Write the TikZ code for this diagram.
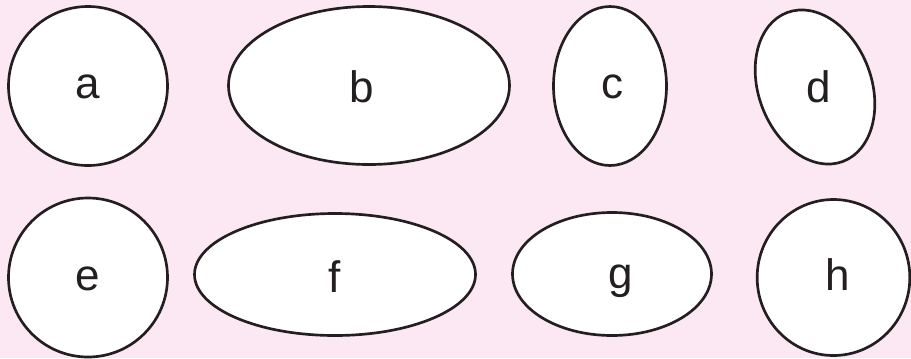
\documentclass[tikz,border=0pt]{standalone}
\usepackage{fontspec}
\setmainfont{Liberation Sans}
\usetikzlibrary{shapes.geometric}
\definecolor{bgpink}{RGB}{252,232,242}
\definecolor{inkdark}{RGB}{35,31,32}

\begin{document}
\begin{tikzpicture}[
    x=0.75pt, y=-0.75pt,
    blob/.style={ellipse, draw=inkdark, line width=2pt, fill=white, inner sep=0pt},
    letter/.style={anchor=base, text=inkdark, inner sep=0pt, font=\fontsize{33}{33}\selectfont}
]
    % Frame
    \useasboundingbox (0,0) rectangle (911,358);
    \clip (0,0) rectangle (911,358);
    \fill[bgpink] (0,0) rectangle (911,358);

    % Upper row
    \node[blob, minimum width=119.25pt, minimum height=119.25pt] (a) at (88,86) {};
    \node[blob, minimum width=210.75pt, minimum height=118.5pt] (b) at (369,85.5) {};
    \node[blob, minimum width=84.75pt, minimum height=119.25pt] (c) at (610,86) {};
    \node[blob, minimum width=84.75pt, minimum height=119.25pt, rotate=20.5] (d) at (815,87) {};

    % Lower row
    \node[blob, minimum width=119.25pt, minimum height=119.25pt] (e) at (88,277.5) {};
    \node[blob, minimum width=210.75pt, minimum height=91.5pt] (f) at (335,274.5) {};
    \node[blob, minimum width=149.25pt, minimum height=92.25pt] (g) at (612,274) {};
    \node[blob, minimum width=114.5pt, minimum height=117pt] (h) at (833.5,277.5) {};

    % Letters
    \node[letter] (la) at (88,98) {a};
    \node[letter] (lb) at (362,102.5) {b};
    \node[letter] (lc) at (612,98) {c};
    \node[letter] (ld) at (819,102) {d};
    \node[letter] (le) at (88,290) {e};
    \node[letter] (lf) at (335,292) {f};
    \node[letter] (lg) at (621,288) {g};
    \node[letter] (lh) at (837.5,290) {h};
\end{tikzpicture}
\end{document}
